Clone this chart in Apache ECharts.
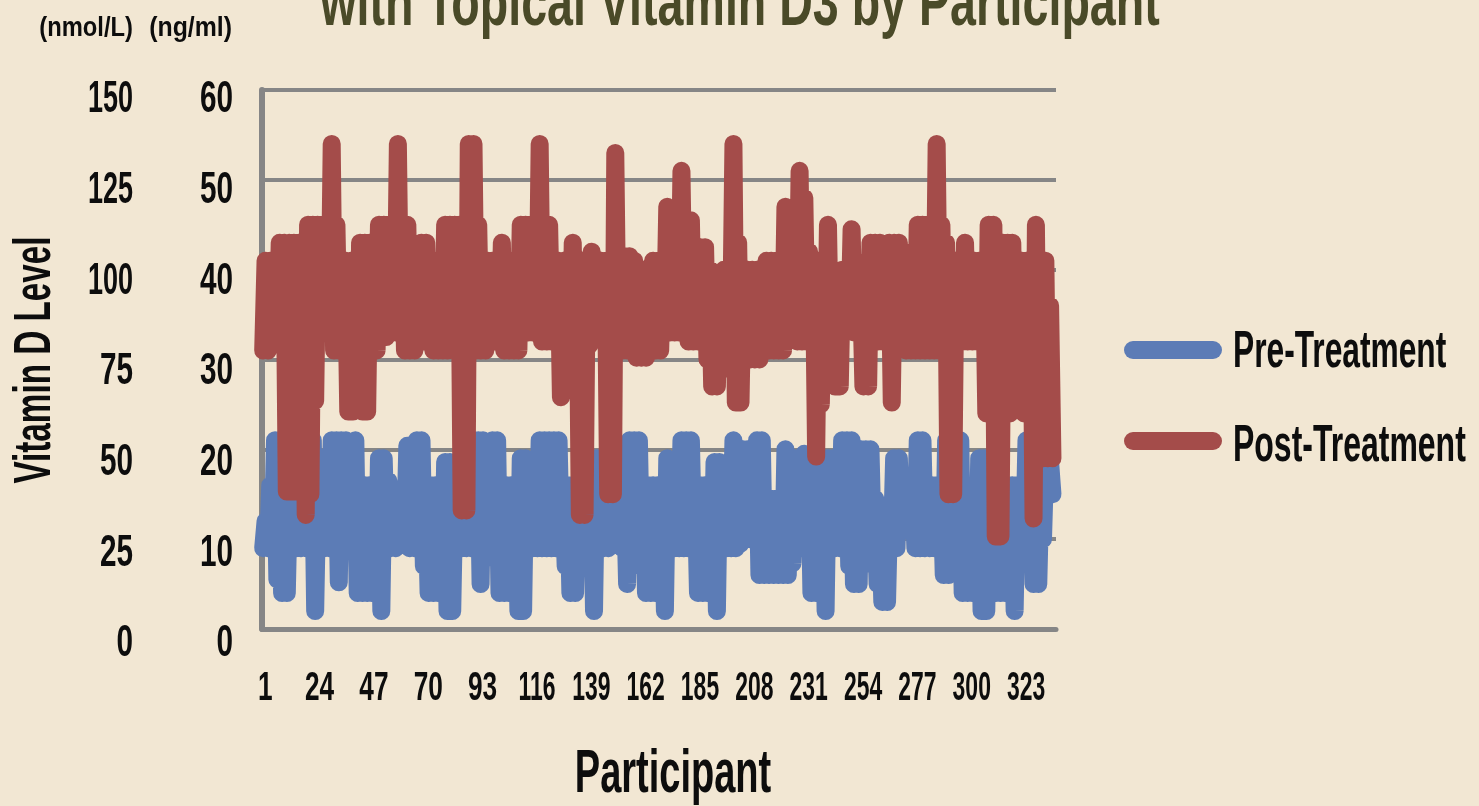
<!DOCTYPE html>
<html><head><meta charset="utf-8">
<style>html,body{margin:0;padding:0;background:#f2e7d3;overflow:hidden}#c{width:1479px;height:806px}</style>
<script src="https://cdn.jsdelivr.net/npm/echarts@6/dist/echarts.min.js"></script>
</head><body><div id="c"></div>
<script>
const titleText = 'with Topical Vitamin D3 by Participant';
const xTitle = 'Participant';
const yTitle = 'Vitamin D Level';
const participantCount = 336;
const xTickLabels = [1, 24, 47, 70, 93, 116, 139, 162, 185, 208, 231, 254, 277, 300, 323];
const ngTicks = [0, 10, 20, 30, 40, 50, 60];
const nmolTicks = [0, 25, 50, 75, 100, 125, 150];
const seriesNames = ['Pre-Treatment', 'Post-Treatment'];

// Each participant alternates: even positions read from the Low list, odd positions from the High list.
const postLow = [
31,31,32,32,32,15.3,15.3,15.3,15.3,12.7,
15,25.4,33,33,33,31,31,31,24.2,24.2,
25,24.2,24.2,31,31,33,32.5,33,33,33,
31,31,31,32,32,32,31,31,31,31,
33,33,13.2,13.2,31,31,31,31,32,32,
32,31,31,31,31,33,33,33,33,32,
32,32,32,25.8,27,27,27,12.7,12.7,31.6,
33,33,33,15,15,31,31,31,31,30.2,
30.2,30.2,31,31,31,33,33,33,33,34.2,
32,32,32,32,30,27,27,29,29,33,
25.2,25.2,30,30,30,30,31,31,31,31,
31,33,33,32,32,32,32,19.2,25,28,
30,27,27,33.2,33.2,33,33,27,27,32,
32,32,32,25.2,33.5,33.5,31,31,31,31,
31,31,31,31,31,15,15,32,32,32,
32,32,32,24,24,10.3,10.3,24,24,27,
27,24,24,12.3,19,19,19,19];
const postHigh = [
41,41,41,43,43,43,43,43,43,45,
45,45,45,45,54,45,41,41,41,41,
43,43,43,43,45,45,45,45,54,45,
45,41,41,43,43,41,41,41,45,45,
45,45,45,54,54,45,41,41,41,41,
43,41,41,41,45,45,45,45,54,45,
45,41,41,41,41,43,41,41,41,42,
41,41,41,41,53,41.5,41.5,41.5,41,40,
40,40,41,41,41,47,45,45,51,45,
45.5,42.5,42.5,42.5,40,38,38,40,40,54,
43,40,40,40,40,40,41,41,41,41,
47,44,44,51,48,42,41,41,41,45,
39.5,39.5,40,40,44.5,41,38,38,43,43,
43,41,43,43,43,42,41,41,45,45,
45,45,54,45,43,41,41,41,43,41,
41,41,41,45,45,43,43,43,43,41,
41,41,41,45,41,41,36];
const preLow = [
9,9,9,5.5,4,4,9,9,9,9,
9,2,9,9,9,9,5.2,9,9,9,
4,4,4,4,4,2,9,9,9,9.7,
9.7,9,9,9,7,4,4,4,4,2,
2,9,9,9,9,9,5,9,8,8,
4,4,4,4,2,2,9,9,9,9,
9,9,9,9,7,4,4,9,9,9,
2,9,9,9,9.5,10,9,5,8,8,
7,4,4,4,4,2,9,9,9,9,
9,9,4,4,4,4,2,9,9,9,
9,9.5,10,10,10,6,6,6,6,6,
6,6,7.3,9,9,9,4,4,4,2,
9,9,9,9,7,5,5,7.3,7.3,9,
5,3,3,9,9,11,11,11,9,9,
9,9,9,9,6,6,7,7,4,4,
4,4,2,2,4,4,4,4,4,2,
9,9,9,5,5,10,15,15];
const preHigh = [
12,16,21,21,21,16,19,21,16,19,
21,16,19,16,21,21,21,21,20.5,21,
16,16,16,16,19,19,16.5,14,14,14,
20.4,20.4,21,21,15,16,16,16,18.6,18.6,
16,16,19,16,21,21,21,20.5,21,21,
16,16,16,16,19,19,16,16,21,21,
21,21,21,16,16,16,16,16,19,19,
19,19,16,16,16,16,16,21,21,21,
16,16,16,16,16,19,16,16,21,21,
21,15.5,16,16,16,18.6,18.6,16,16,21,
20,20,20,20,21,21,14.5,14.5,14.5,14.5,
20,19,19,19,19.5,19,19,19,19,19,
19,19,21,21,21,20,20,20,20,14.5,
12.5,12.5,14,19,19,16,16,16,21,21,
16,16,16,16,21,21,21,21,15.5,15.5,
15.5,19,19,19,19,16,16,16,16,16,
16,21,21,16,16,19,18.6];

const weave = (low, high) => low.flatMap((v, k) => k < high.length ? [v, high[k]] : [v]);
const preValues = weave(preLow, preHigh);
const postValues = weave(postLow, postHigh);
const categories = Array.from({length: participantCount}, (_, k) => String(k + 1));

const FONT = '"Liberation Sans",Arial,sans-serif';
const BLUE = '#5c7cb6', RED = '#a44c4a', GRID = '#868686', INK = '#0d0d0d', OLIVE = '#4a4a28';
const lineSeries = (name, data, color, z) => ({
  name, type: 'line', data, z, showSymbol: false, symbol: 'none',
  smooth: false, silent: true, itemStyle: {color},
  lineStyle: {color, width: 18, cap: 'round', join: 'round'}
});
const chart = echarts.init(document.getElementById('c'), null, {width: 1479, height: 806});
chart.setOption({
  animation: false,
  backgroundColor: '#f2e7d3',
  grid: {left: 262, top: 90, width: 794, height: 539, containLabel: false, outerBoundsMode: 'none'},
  xAxis: {type: 'category', data: categories, boundaryGap: true,
    axisLine: {lineStyle: {color: GRID, width: 5}}, axisTick: {show: false},
    axisLabel: {show: false}, splitLine: {show: false}},
  yAxis: [
    {type: 'value', min: 0, max: 60, interval: 10, position: 'left',
      axisLine: {show: true, onZero: false, lineStyle: {color: GRID, width: 6}}, axisTick: {show: false},
      axisLabel: {show: false},
      splitLine: {show: true, lineStyle: {color: GRID, width: 4}}},
    {type: 'value', min: 0, max: 150, interval: 25, position: 'left', offset: 100,
      axisLine: {show: false}, axisTick: {show: false}, axisLabel: {show: false}, splitLine: {show: false}}
  ],
  series: [lineSeries(seriesNames[0], preValues, BLUE, 3), lineSeries(seriesNames[1], postValues, RED, 4)]
});

// The reference lettering is a very condensed face, so text elements are squeezed horizontally.
const text = (str, x, y, size, scaleX, opt = {}) => ({
  type: 'text', x, y, scaleX, rotation: opt.rotation || 0, z: 10,
  style: {text: String(str), fontFamily: FONT, fontWeight: 'bold', fontSize: size,
    fill: opt.fill || INK, align: opt.align || 'center', verticalAlign: 'middle'}
});
const labelShift = v => 10 + (60 - v) / 60 * 5;
const tickText = [];
xTickLabels.forEach(c => {
  const sx = String(c).length > 2 ? 0.56 : 0.64;
  tickText.push(text(c, chart.convertToPixel({xAxisIndex: 0}, String(c)) + 2, 689, 41, sx));
});
ngTicks.forEach(v => {
  tickText.push(text(v, 233, chart.convertToPixel({yAxisIndex: 0}, v) + labelShift(v), 45, 0.66, {align: 'right'}));
});
nmolTicks.forEach(v => {
  const py = chart.convertToPixel({yAxisIndex: 1}, v);
  const sx = String(v).length > 2 ? 0.6 : 0.66;
  tickText.push(text(v, 133, py + labelShift(v * 60 / 150), 45, sx, {align: 'right'}));
});
const legendSwatch = (y, color) => ({type: 'rect', z: 10,
  shape: {x: 1124, y: y - 9, width: 98, height: 18, r: 9}, style: {fill: color}});
chart.setOption({graphic: [
  text(titleText, 740, 6, 68, 0.685, {fill: OLIVE}),
  text('(nmol/L)', 133, 29, 27, 0.88, {align: 'right'}),
  text('(ng/ml)', 232, 29, 27, 0.92, {align: 'right'}),
  text(xTitle, 673, 775, 62, 0.613),
  text(yTitle, 36, 360, 52, 0.64, {rotation: Math.PI / 2}),
  ...tickText,
  legendSwatch(350, BLUE), legendSwatch(441, RED),
  text(seriesNames[0], 1233, 353, 52, 0.61, {align: 'left'}),
  text(seriesNames[1], 1233, 447, 52, 0.615, {align: 'left'})
]});
</script></body></html>
